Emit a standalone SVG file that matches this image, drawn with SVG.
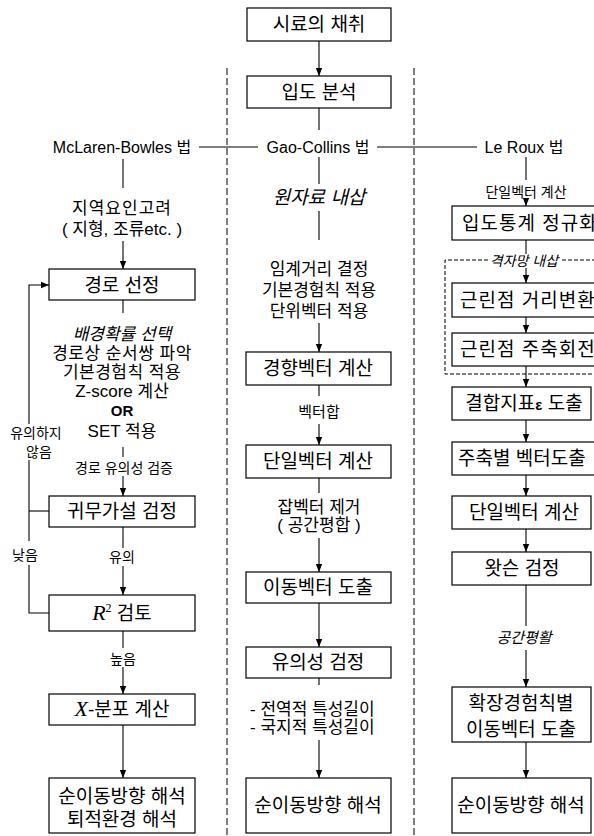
<svg xmlns="http://www.w3.org/2000/svg" width="594" height="836" viewBox="0 0 594 836">
<defs>
<marker id="ah" viewBox="0 0 8 8" refX="8" refY="4" markerWidth="8" markerHeight="8" orient="auto" markerUnits="userSpaceOnUse"><path d="M0,0.8 L8,4 L0,7.2 z" fill="#000"/></marker>
<style>
.b{fill:#fff;stroke:#000;stroke-width:1.2}
.l{stroke:#000;stroke-width:1.1;fill:none}
.a{stroke:#000;stroke-width:1.1;fill:none;marker-end:url(#ah)}
.d{stroke:#000;stroke-width:1;fill:none;stroke-dasharray:7 3}
.dd{stroke:#000;stroke-width:1;fill:none;stroke-dasharray:4 2}
text{font-family:'Liberation Sans','Noto Sans CJK KR',sans-serif;fill:#000;text-anchor:middle}
.bx{font-size:19px}
.s{font-size:16px}
.m{font-size:17px}
.xs{font-size:14px}
.i{font-style:italic}
.st{text-anchor:start}
</style>
</defs>
<rect width="594" height="836" fill="#fff"/>

<g id="separators">
<line class="d" x1="227" y1="68" x2="227" y2="836"/>
<line class="d" x1="414" y1="68" x2="414" y2="836"/>
</g>

<g id="connectors">
<line class="a" x1="319" y1="41" x2="319" y2="76"/>
<line class="l" x1="319" y1="108" x2="319" y2="130"/>
<line class="l" x1="199" y1="147" x2="258" y2="147"/>
<line class="l" x1="377" y1="147" x2="477" y2="147"/>
<line class="l" x1="123" y1="159" x2="123" y2="188"/>
<line class="a" x1="123" y1="241" x2="123" y2="269"/>
<line class="l" x1="123" y1="300" x2="123" y2="313"/>
<line class="l" x1="123" y1="447" x2="123" y2="457"/>
<line class="a" x1="123" y1="476" x2="123" y2="496"/>
<line class="l" x1="123" y1="527" x2="123" y2="548"/>
<line class="a" x1="123" y1="566" x2="123" y2="595"/>
<line class="l" x1="123" y1="631" x2="123" y2="648"/>
<line class="a" x1="123" y1="667" x2="123" y2="694"/>
<line class="a" x1="123" y1="725" x2="123" y2="778"/>
<path class="a" d="M29,424 V285 H49"/>
<line class="l" x1="29" y1="460" x2="29" y2="541"/>
<path class="l" d="M29,565 V613 H49"/>
<line class="l" x1="29" y1="511" x2="49" y2="511"/>
<line class="l" x1="319" y1="157" x2="319" y2="184"/>
<line class="l" x1="319" y1="211" x2="319" y2="240"/>
<line class="a" x1="319" y1="323" x2="319" y2="352"/>
<line class="l" x1="319" y1="385" x2="319" y2="396"/>
<line class="a" x1="319" y1="424" x2="319" y2="445"/>
<line class="l" x1="319" y1="478" x2="319" y2="493"/>
<line class="a" x1="319" y1="538" x2="319" y2="572"/>
<line class="a" x1="319" y1="603" x2="319" y2="647"/>
<line class="l" x1="319" y1="678" x2="319" y2="685"/>
<line class="a" x1="319" y1="740" x2="319" y2="778"/>
<line class="l" x1="526" y1="157" x2="526" y2="180"/>
<line class="a" x1="526" y1="199" x2="526" y2="206"/>
<line class="l" x1="526" y1="240" x2="526" y2="254"/>
<line class="a" x1="526" y1="268" x2="526" y2="283"/>
<line class="a" x1="526" y1="317" x2="526" y2="333"/>
<line class="a" x1="526" y1="366" x2="526" y2="387"/>
<line class="a" x1="526" y1="420" x2="526" y2="442"/>
<line class="a" x1="526" y1="475" x2="526" y2="496"/>
<line class="a" x1="526" y1="529" x2="526" y2="552"/>
<line class="l" x1="526" y1="585" x2="526" y2="626"/>
<line class="a" x1="526" y1="650" x2="526" y2="687"/>
<line class="a" x1="526" y1="742" x2="526" y2="778"/>
</g>

<g id="n_sample"><rect class="b" x="247" y="8" width="144" height="33"/><text class="bx" x="319" y="31" font-size="20">시료의 채취</text></g>
<g id="n_grain"><rect class="b" x="247" y="76" width="144" height="32"/><text class="bx" x="319" y="99" font-size="20">입도 분석</text></g>

<g id="h_mb"><text class="s" x="122" y="153">McLaren-Bowles 법</text></g>
<g id="h_gc"><text class="s" x="318" y="153">Gao-Collins 법</text></g>
<g id="h_lr"><text class="s" x="524" y="153">Le Roux 법</text></g>

<g id="l_regional"><text class="m" x="122" y="214" letter-spacing="1">지역요인고려</text><text class="m" x="122" y="235">( 지형, 조류etc. )</text></g>
<g id="l_route"><rect class="b" x="49" y="269" width="146" height="31"/><text class="bx" x="122" y="292" font-size="20">경로 선정</text></g>
<g id="l_steps">
<text class="m i" x="122" y="340">배경확률 선택</text>
<text class="m" x="122" y="359" letter-spacing="0.5">경로상 순서쌍 파악</text>
<text class="m" x="122" y="378" letter-spacing="0.5">기본경험칙 적용</text>
<text class="m" x="122" y="397">Z-score 계산</text>
<text x="122" y="416" font-size="15" font-weight="bold">OR</text>
<text class="m" x="122" y="437">SET 적용</text>
<text class="xs" x="124" y="473">경로 유의성 검증</text>
</g>
<g id="l_null"><rect class="b" x="49" y="496" width="146" height="31"/><text class="bx" x="122" y="518" font-size="20">귀무가설 검정</text></g>
<g id="l_labels">
<text class="xs" x="36" y="438">유의하지</text>
<text class="xs" x="39" y="457">않음</text>
<text class="xs" x="25" y="560">낮음</text>
<text class="xs" x="122" y="562">유의</text>
<text class="xs" x="123" y="664">높음</text>
</g>
<g id="l_r2"><rect class="b" x="49" y="595" width="146" height="36"/><text class="bx" x="122" y="620" font-size="20"><tspan font-family="Liberation Serif" font-style="italic" font-size="22">R</tspan><tspan dy="-8" font-family="Liberation Serif" font-size="12">2</tspan><tspan dy="8">  검토</tspan></text></g>
<g id="l_xdist"><rect class="b" x="49" y="694" width="146" height="31"/><text class="bx" x="122" y="716" font-size="20"><tspan font-family="Liberation Serif" font-style="italic" font-size="22">X</tspan>-분포 계산</text></g>
<g id="l_final"><rect class="b" x="49" y="778" width="146" height="55"/><text class="bx" x="122" y="803">순이동방향 해석</text><text class="bx" x="122" y="826">퇴적환경 해석</text></g>

<g id="m_interp"><text class="i" x="319" y="204" font-size="19">원자료 내삽</text></g>
<g id="m_steps">
<text class="m" x="319" y="275">임계거리 결정</text>
<text class="m" x="319" y="296">기본경험칙 적용</text>
<text class="m" x="319" y="317">단위벡터 적용</text>
</g>
<g id="m_trend"><rect class="b" x="246" y="352" width="145" height="33"/><text class="bx" x="318" y="375" font-size="20">경향벡터 계산</text></g>
<g id="m_sum"><text x="319" y="417" font-size="15">벡터합</text></g>
<g id="m_unit"><rect class="b" x="246" y="445" width="145" height="33"/><text class="bx" x="318" y="468" font-size="20">단일벡터 계산</text></g>
<g id="m_noise"><text class="m" x="319" y="513">잡벡터 제거</text><text class="m" x="319" y="531">( 공간평합 )</text></g>
<g id="m_move"><rect class="b" x="246" y="572" width="145" height="31"/><text class="bx" x="318" y="594" font-size="20">이동벡터 도출</text></g>
<g id="m_sig"><rect class="b" x="246" y="647" width="145" height="31"/><text class="bx" x="318" y="669" font-size="20">유의성 검정</text></g>
<g id="m_len"><text class="m st" x="250" y="715">- 전역적 특성길이</text><text class="m st" x="250" y="733">- 국지적 특성길이</text></g>
<g id="m_final"><rect class="b" x="246" y="778" width="145" height="55"/><text class="bx" x="318" y="812">순이동방향 해석</text></g>

<g id="r_unit_label"><text class="xs" x="526" y="197">단일벡터 계산</text></g>
<g id="r_norm"><rect class="b" x="452" y="206" width="170" height="34"/><text class="bx st" x="462" y="230" font-size="21" letter-spacing="1">입도통계 정규화</text></g>
<g id="r_grid">
<path class="dd" d="M488,260 H445 V374 H600"/>
<line class="dd" x1="562" y1="260" x2="600" y2="260"/>
<text class="xs i" x="524" y="266">격자망 내삽</text>
</g>
<g id="r_dist"><rect class="b" x="452" y="283" width="170" height="34"/><text class="bx st" x="460" y="307" font-size="21" letter-spacing="1">근린점 거리변환</text></g>
<g id="r_rot"><rect class="b" x="452" y="333" width="170" height="33"/><text class="bx st" x="460" y="356" font-size="21" letter-spacing="1">근린점 주축회전</text></g>
<g id="r_eps"><rect class="b" x="452" y="387" width="139" height="33"/><text class="bx" x="524" y="410" font-size="20">결합지표<tspan font-weight="bold" font-size="15">ε</tspan> 도출</text></g>
<g id="r_axis"><rect class="b" x="452" y="442" width="170" height="33"/><text class="bx st" x="458" y="465" font-size="20">주축별 벡터도출</text></g>
<g id="r_unit"><rect class="b" x="452" y="496" width="139" height="33"/><text class="bx" x="524" y="519" font-size="20">단일벡터 계산</text></g>
<g id="r_watson"><rect class="b" x="452" y="552" width="139" height="33"/><text class="bx" x="522" y="575" font-size="20">왓슨 검정</text></g>
<g id="r_smooth"><text class="i" x="524" y="643" font-size="15">공간평활</text></g>
<g id="r_ext"><rect class="b" x="452" y="687" width="139" height="55"/><text class="bx" x="521" y="710">확장경험칙별</text><text class="bx" x="521" y="736">이동벡터 도출</text></g>
<g id="r_final"><rect class="b" x="452" y="778" width="139" height="55"/><text class="bx" x="521" y="812">순이동방향 해석</text></g>
</svg>
